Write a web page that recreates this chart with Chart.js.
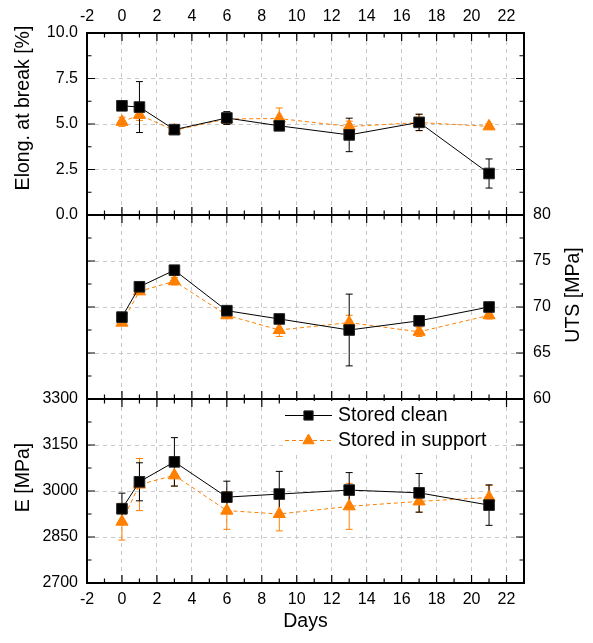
<!DOCTYPE html>
<html>
<head>
<meta charset="utf-8">
<script src="https://cdn.jsdelivr.net/npm/chart.js@4.4.1/dist/chart.umd.min.js"></script>
<style>
  html, body { margin: 0; padding: 0; background: #fff; }
  #lienzo { position: relative; width: 593px; height: 643px; overflow: hidden; }
  #lienzo canvas { position: absolute; left: 0; }
</style>
</head>
<body>
<div id="lienzo">
  <canvas id="gElong" width="593" height="240" style="top:0px"></canvas>
  <canvas id="gUts" width="593" height="240" style="top:190px"></canvas>
  <canvas id="gE" width="593" height="263" style="top:380px"></canvas>
</div>
<script>
// Datos
const dias = [0, 1, 3, 6, 9, 13, 17, 21];

const elongLimpio = [6.0, 5.93, 4.69, 5.33, 4.9, 4.4, 5.09, 2.28];
const elongLimpioErr = [0.18, 1.4, 0.1, 0.35, 0.15, 0.92, 0.45, 0.8];
const elongSoporte = [5.12, 5.5, 4.65, 5.28, 5.3, 4.86, 5.08, 4.87];
const elongSoporteErr = [0.25, 0.3, 0.15, 0.3, 0.58, 0.3, 0.45, 0.15];

const utsLimpio = [68.9, 72.2, 74.0, 69.6, 68.7, 67.5, 68.5, 70.0];
const utsLimpioErr = [0.3, 0.3, 0.3, 0.3, 0.3, 3.9, 0.3, 0.3];
const utsSoporte = [68.3, 71.7, 72.8, 69.1, 67.5, 68.3, 67.3, 69.1];
const utsSoporteErr = [0.3, 0.3, 0.4, 0.3, 0.7, 0.8, 0.5, 0.4];

const eLimpio = [2942, 3030, 3095, 2980, 2990, 3003, 2994, 2954];
const eLimpioErr = [51, 62, 79, 52, 74, 57, 63, 66];
const eSoporte = [2900, 3021, 3051, 2936, 2925, 2950, 2966, 2979];
const eSoporteErr = [60, 85, 35, 61, 55, 75, 35, 39];

// Marcas de los ejes
const ticksDias = [-2, 0, 2, 4, 6, 8, 10, 12, 14, 16, 18, 20, 22];
const ticksElong = [0, 2.5, 5, 7.5, 10];
const ticksUts = [60, 65, 70, 75, 80];
const ticksE = [2700, 2850, 3000, 3150, 3300];

const fuente = '"Liberation Sans", Arial, sans-serif';
Chart.defaults.font.family = fuente;
Chart.defaults.font.size = 16;
Chart.defaults.color = '#000';

const NEGRO = '#000000';
const NARANJA = '#ff7f00';

function series(limpio, errLimpio, soporte, errSoporte) {
  return [
    {
      label: 'Stored clean',
      data: dias.map((d, i) => ({ x: d, y: limpio[i] })),
      errores: errLimpio,
      borderColor: NEGRO,
      backgroundColor: NEGRO,
      borderWidth: 1,
      pointStyle: 'rect',
      pointRadius: 7.5,
      pointBorderWidth: 1,
      pointBorderColor: '#222',
      pointBackgroundColor: NEGRO,
      tension: 0,
      fill: false
    },
    {
      label: 'Stored in support',
      data: dias.map((d, i) => ({ x: d, y: soporte[i] })),
      errores: errSoporte,
      borderColor: NARANJA,
      backgroundColor: NARANJA,
      borderWidth: 1,
      borderDash: [4, 3],
      pointStyle: 'triangle',
      pointRadius: 7,
      pointBorderWidth: 1,
      pointBorderColor: NARANJA,
      pointBackgroundColor: NARANJA,
      tension: 0,
      fill: false
    }
  ];
}

const rejilla = { color: '#c8c8c8', lineWidth: 1, drawTicks: false };
const borde = { display: false, dash: [4, 4] };

function fijarTicks(lista) {
  return s => { s.ticks = lista.map(v => ({ value: v })); };
}

// Barras de error, debajo de los marcadores
const barrasError = {
  id: 'barrasError',
  beforeDatasetsDraw(chart) {
    const ctx = chart.ctx;
    const y = chart.scales.y;
    for (let i = chart.data.datasets.length - 1; i >= 0; i--) {
      const ds = chart.data.datasets[i];
      const meta = chart.getDatasetMeta(i);
      ctx.save();
      ctx.strokeStyle = ds.borderColor;
      ctx.lineWidth = 1;
      meta.data.forEach((p, j) => {
        const v = ds.data[j].y;
        const e = ds.errores[j];
        const y1 = y.getPixelForValue(v + e);
        const y2 = y.getPixelForValue(v - e);
        ctx.beginPath();
        ctx.moveTo(p.x, y1); ctx.lineTo(p.x, y2);
        ctx.moveTo(p.x - 3.5, y1); ctx.lineTo(p.x + 3.5, y1);
        ctx.moveTo(p.x - 3.5, y2); ctx.lineTo(p.x + 3.5, y2);
        ctx.stroke();
      });
      ctx.restore();
    }
  }
};

// Marco con marcas hacia dentro en los cuatro lados
function marco(ticksY, pasoMenorY) {
  return {
    id: 'marco',
    afterDraw(chart) {
      const { ctx, chartArea: a, scales } = chart;
      const x = scales.x, y = scales.y;
      ctx.save();
      ctx.strokeStyle = '#000';
      ctx.lineWidth = 1.2;
      ctx.beginPath();
      for (let v = x.min; v <= x.max; v += 1) {
        const px = x.getPixelForValue(v);
        const largo = ticksDias.includes(v) ? 8 : 4.5;
        ctx.moveTo(px, a.top); ctx.lineTo(px, a.top + largo);
        ctx.moveTo(px, a.bottom); ctx.lineTo(px, a.bottom - largo);
      }
      const n = Math.round((y.max - y.min) / pasoMenorY);
      for (let k = 0; k <= n; k++) {
        const v = y.min + k * pasoMenorY;
        const py = y.getPixelForValue(v);
        const mayor = ticksY.some(t => Math.abs(t - v) < 1e-6);
        const largo = mayor ? 8 : 4.5;
        ctx.moveTo(a.left, py); ctx.lineTo(a.left + largo, py);
        ctx.moveTo(a.right, py); ctx.lineTo(a.right - largo, py);
      }
      ctx.stroke();
      ctx.lineWidth = 2;
      ctx.strokeRect(a.left, a.top, a.right - a.left, a.bottom - a.top);
      ctx.restore();
    }
  };
}

function tituloVertical(id, texto, x, y) {
  return {
    id: id,
    afterDraw(chart) {
      const ctx = chart.ctx;
      ctx.save();
      ctx.translate(x, y);
      ctx.rotate(-Math.PI / 2);
      ctx.font = '19.5px ' + fuente;
      ctx.fillStyle = '#000';
      ctx.textAlign = 'center';
      ctx.textBaseline = 'middle';
      ctx.fillText(texto, 0, 0);
      ctx.restore();
    }
  };
}

// Leyenda dentro del panel inferior
const leyenda = {
  id: 'leyendaPropia',
  afterDraw(chart) {
    const ctx = chart.ctx;
    ctx.save();
    ctx.fillStyle = '#fff';
    ctx.fillRect(283, 21, 207, 52);
    chart.data.datasets.forEach((ds, i) => {
      const yFila = 35.5 + i * 25;
      ctx.save();
      ctx.strokeStyle = ds.borderColor;
      ctx.lineWidth = 1;
      ctx.setLineDash(ds.borderDash || []);
      ctx.beginPath(); ctx.moveTo(285, yFila); ctx.lineTo(332, yFila); ctx.stroke();
      ctx.setLineDash([]);
      ctx.fillStyle = ds.pointBackgroundColor;
      ctx.strokeStyle = ds.pointBorderColor;
      Chart.helpers.drawPoint(ctx, { pointStyle: ds.pointStyle, radius: 6.5, borderWidth: 1, rotation: 0 }, 308.5, yFila);
      ctx.fillStyle = '#000';
      ctx.font = '19.5px ' + fuente;
      ctx.textAlign = 'left';
      ctx.textBaseline = 'middle';
      ctx.fillText(ds.label, 338, yFila);
      ctx.restore();
    });
    ctx.restore();
  }
};

const base = {
  responsive: false,
  animation: false,
  events: [],
  plugins: { legend: { display: false }, tooltip: { enabled: false } }
};

// Panel superior: alargamiento
new Chart(document.getElementById('gElong'), {
  type: 'line',
  data: { datasets: series(elongLimpio, elongLimpioErr, elongSoporte, elongSoporteErr) },
  options: Object.assign({}, base, {
    layout: { padding: { left: 0, right: 69, top: 0, bottom: 25 } },
    scales: {
      x: {
        type: 'linear', position: 'top', min: -2, max: 23,
        afterBuildTicks: fijarTicks(ticksDias),
        ticks: { padding: 7, maxRotation: 0, autoSkip: false, callback: v => String(v) },
        grid: rejilla, border: borde,
        afterFit: s => { s.height = 33; }
      },
      y: {
        type: 'linear', position: 'left', min: 0, max: 10,
        afterBuildTicks: fijarTicks(ticksElong),
        ticks: { padding: 9, callback: v => v.toFixed(1) },
        grid: rejilla, border: borde,
        afterFit: s => { s.width = 87; }
      }
    }
  }),
  plugins: [barrasError, marco(ticksElong, 1.25), tituloVertical('tElong', 'Elong. at break [%]', 24, 108)]
});

// Panel central: UTS
new Chart(document.getElementById('gUts'), {
  type: 'line',
  data: { datasets: series(utsLimpio, utsLimpioErr, utsSoporte, utsSoporteErr) },
  options: Object.assign({}, base, {
    layout: { padding: { left: 87, right: 0, top: 25, bottom: 31 } },
    scales: {
      x: {
        type: 'linear', position: 'bottom', min: -2, max: 23,
        afterBuildTicks: fijarTicks(ticksDias),
        ticks: { display: false },
        grid: rejilla, border: borde,
        afterFit: s => { s.height = 0; }
      },
      y: {
        type: 'linear', position: 'right', min: 60, max: 80,
        afterBuildTicks: fijarTicks(ticksUts),
        ticks: { padding: 9, callback: v => String(v) },
        grid: rejilla, border: borde,
        afterFit: s => { s.width = 69; }
      }
    }
  }),
  plugins: [barrasError, marco(ticksUts, 2.5), tituloVertical('tUts', 'UTS [MPa]', 573.5, 105)]
});

// Panel inferior: modulo E
new Chart(document.getElementById('gE'), {
  type: 'line',
  data: { datasets: series(eLimpio, eLimpioErr, eSoporte, eSoporteErr) },
  options: Object.assign({}, base, {
    layout: { padding: { left: 0, right: 69, top: 19, bottom: 0 } },
    scales: {
      x: {
        type: 'linear', position: 'bottom', min: -2, max: 23,
        afterBuildTicks: fijarTicks(ticksDias),
        ticks: { padding: 7, maxRotation: 0, autoSkip: false, callback: v => String(v) },
        title: { display: true, text: 'Days', font: { size: 19.5 }, padding: { top: 0, bottom: 10 } },
        grid: rejilla, border: borde,
        afterFit: s => { s.height = 60; }
      },
      y: {
        type: 'linear', position: 'left', min: 2700, max: 3300,
        afterBuildTicks: fijarTicks(ticksE),
        ticks: { padding: 9, callback: v => String(v) },
        grid: rejilla, border: borde,
        afterFit: s => { s.width = 87; }
      }
    }
  }),
  plugins: [barrasError, marco(ticksE, 75), leyenda, tituloVertical('tE', 'E [MPa]', 24, 97.5)]
});
</script>
</body>
</html>
